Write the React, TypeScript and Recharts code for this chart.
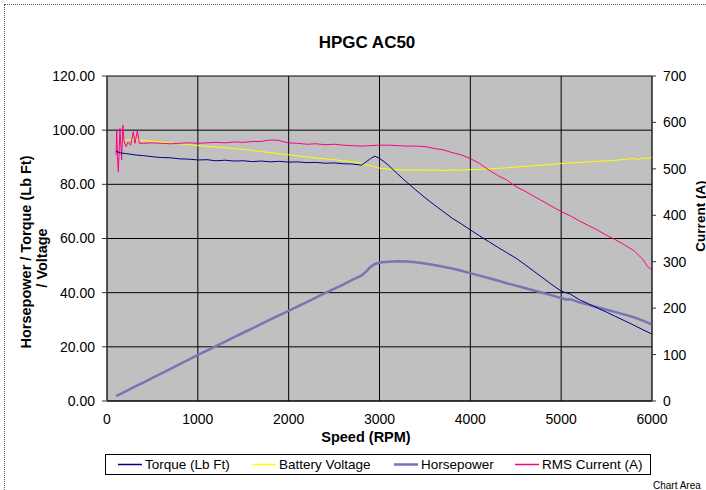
import React from 'react';
import { LineChart, Line, XAxis, YAxis, CartesianGrid } from 'recharts';

const xTicks = [0, 1000, 2000, 3000, 4000, 5000, 6000];
const leftTicks = [0, 20, 40, 60, 80, 100, 120];
const rightTicks = [0, 100, 200, 300, 400, 500, 600, 700];

const torqueRpm = [100, 150, 200, 300, 400, 500, 600, 700, 800, 900, 1000, 1100, 1200, 1300, 1400, 1500, 1600, 1700, 1800, 1900, 2000, 2100, 2200, 2300, 2400, 2500, 2600, 2700, 2800, 2850, 2900, 2950, 3000, 3050, 3100, 3200, 3300, 3400, 3500, 3600, 3700, 3800, 3900, 4000, 4100, 4200, 4300, 4400, 4500, 4600, 4700, 4800, 4900, 5000, 5050, 5100, 5200, 5300, 5400, 5500, 5600, 5700, 5800, 5900, 6000];
const torqueVals = [92.2, 91.6, 91.4, 90.9, 90.6, 90.2, 89.9, 89.8, 89.4, 89.3, 89.0, 89.1, 88.7, 88.9, 88.6, 88.7, 88.4, 88.6, 88.3, 88.5, 88.2, 88.3, 88.0, 88.1, 87.8, 87.9, 87.6, 87.5, 87.1, 88.2, 89.5, 90.4, 89.6, 88.4, 87.0, 83.8, 80.8, 77.9, 75.1, 72.5, 70.0, 67.5, 65.4, 63.2, 61.0, 58.9, 56.8, 54.8, 52.8, 50.4, 47.9, 45.4, 42.9, 40.6, 40.0, 39.5, 37.4, 35.9, 34.3, 32.8, 31.2, 29.6, 28.0, 26.3, 24.7];

const voltRpm = [140, 200, 300, 400, 500, 600, 700, 800, 900, 1000, 1100, 1200, 1300, 1400, 1500, 1600, 1700, 1800, 1900, 2000, 2100, 2200, 2300, 2400, 2500, 2600, 2700, 2800, 2900, 3000, 3100, 3200, 3300, 3400, 3500, 3600, 3700, 3800, 3900, 4000, 4100, 4200, 4300, 4400, 4500, 4600, 4700, 4800, 4900, 5000, 5100, 5200, 5300, 5400, 5500, 5600, 5700, 5800, 5850, 5900, 5950, 6000];
const voltVals = [96.6, 96.3, 96.5, 96.2, 95.9, 95.6, 95.3, 95.0, 94.7, 94.3, 94.0, 93.8, 93.5, 93.2, 92.9, 92.5, 92.1, 91.7, 91.3, 90.9, 90.5, 90.1, 89.7, 89.4, 89.1, 88.7, 88.3, 87.8, 86.8, 86.0, 85.6, 85.4, 85.3, 85.3, 85.2, 85.3, 85.1, 85.3, 85.2, 85.4, 85.5, 85.7, 85.9, 86.1, 86.4, 86.6, 86.9, 87.1, 87.4, 87.7, 87.9, 88.1, 88.3, 88.5, 88.7, 88.9, 89.2, 89.5, 89.2, 89.8, 89.5, 90.0];

const hpRpm = [100, 200, 300, 400, 500, 600, 700, 800, 900, 1000, 1100, 1200, 1300, 1400, 1500, 1600, 1700, 1800, 1900, 2000, 2100, 2200, 2300, 2400, 2500, 2600, 2700, 2800, 2850, 2900, 2950, 3000, 3100, 3200, 3300, 3400, 3500, 3600, 3700, 3800, 3900, 4000, 4100, 4200, 4300, 4400, 4500, 4600, 4700, 4800, 4900, 5000, 5050, 5100, 5200, 5300, 5400, 5500, 5600, 5700, 5800, 5900, 6000];
const hpVals = [1.8, 3.5, 5.2, 6.8, 8.5, 10.2, 11.9, 13.6, 15.3, 17.0, 18.6, 20.3, 21.9, 23.6, 25.2, 26.8, 28.5, 30.1, 31.7, 33.3, 34.9, 36.5, 38.2, 39.8, 41.4, 43.0, 44.7, 46.3, 47.7, 49.5, 50.6, 51.1, 51.4, 51.6, 51.5, 51.2, 50.8, 50.2, 49.6, 48.9, 48.1, 47.2, 46.3, 45.4, 44.5, 43.5, 42.6, 41.7, 40.8, 39.9, 39.0, 38.0, 37.5, 37.6, 36.4, 35.5, 34.6, 33.7, 32.8, 31.9, 30.9, 29.7, 28.3];

const ampRpm = [100, 107, 115, 125, 143, 161, 175, 187, 209, 235, 260, 290, 308, 334, 356, 400, 500, 600, 700, 800, 900, 1000, 1100, 1200, 1300, 1400, 1500, 1600, 1700, 1750, 1800, 1850, 1900, 1950, 2000, 2100, 2200, 2300, 2400, 2500, 2600, 2700, 2800, 2900, 3000, 3100, 3200, 3300, 3400, 3500, 3600, 3700, 3800, 3900, 4000, 4100, 4200, 4300, 4400, 4500, 4600, 4700, 4800, 4900, 5000, 5100, 5200, 5300, 5400, 5500, 5600, 5700, 5800, 5900, 5950, 6000];
const ampVals = [530, 584, 526, 494, 587, 519, 594, 560, 548, 558, 551, 580, 555, 582, 555, 555, 556, 555, 554, 555, 556, 555, 556, 557, 556, 558, 557, 559, 559, 561, 562, 562, 561, 558, 556, 555, 553, 554, 552, 553, 551, 550, 549, 550, 551, 551, 550, 549, 549, 548, 544, 541, 535, 530, 522, 512, 498, 486, 476, 462, 452, 441, 430, 419, 408, 399, 388, 378, 368, 357, 347, 336, 324, 305, 290, 282];

const pair = (xs: number[], ys: number[]) => xs.map((rpm, i) => ({ rpm, v: ys[i] }));

const FONT = 'Liberation Sans, Arial, sans-serif';
const HP_COLOR = '#7676B6';

const legendItems = [
  { name: 'Torque (Lb Ft)', color: '#000080', w: 1.5, x: 118 },
  { name: 'Battery Voltage', color: '#FFFF00', w: 1.5, x: 252 },
  { name: 'Horsepower', color: HP_COLOR, w: 2.5, x: 394 },
  { name: 'RMS Current (A)', color: '#FF0080', w: 1.5, x: 515 },
];

const App: React.FC = () => {
  const tick = { fill: '#000', fontSize: 14, fontFamily: FONT };
  return (
    <div style={{ position: 'absolute', left: 0, top: 0, width: 706, height: 490, overflow: 'hidden', background: '#fff' }}>
      <div style={{ position: 'absolute', left: 4, top: 4, width: 800, height: 600, border: '1px dotted #555' }} />
      <div style={{ position: 'absolute', left: 0, top: 0 }}>
        <LineChart width={706} height={490} margin={{ top: 76, right: 0, bottom: 0, left: 0 }}>
          <CartesianGrid yAxisId="left" stroke="#000" strokeWidth={1} fill="#C0C0C0" fillOpacity={1} />
          <XAxis
            type="number"
            dataKey="rpm"
            domain={[0, 6000]}
            ticks={xTicks}
            height={89}
            tickLine={false}
            tickSize={6}
            tickMargin={7}
            axisLine={{ stroke: '#000' }}
            tick={tick}
            allowDuplicatedCategory={false}
          />
          <YAxis
            yAxisId="left"
            domain={[0, 120]}
            ticks={leftTicks}
            width={107}
            tickSize={5}
            tickMargin={7}
            tickFormatter={(v: number) => v.toFixed(2)}
            axisLine={{ stroke: '#333' }}
            tickLine={{ stroke: '#333' }}
            tick={tick}
          />
          <YAxis
            yAxisId="right"
            orientation="right"
            domain={[0, 700]}
            ticks={rightTicks}
            width={54}
            tickSize={4}
            tickMargin={7}
            axisLine={{ stroke: '#333' }}
            tickLine={{ stroke: '#333' }}
            tick={tick}
          />
          <Line yAxisId="left" data={pair(hpRpm, hpVals)} dataKey="v" name="Horsepower" stroke={HP_COLOR} strokeWidth={2.5} dot={false} isAnimationActive={false} type="linear" />
          <Line yAxisId="left" data={pair(voltRpm, voltVals)} dataKey="v" name="Battery Voltage" stroke="#FFFF00" strokeWidth={1} dot={false} isAnimationActive={false} type="linear" />
          <Line yAxisId="right" data={pair(ampRpm, ampVals)} dataKey="v" name="RMS Current (A)" stroke="#FF0080" strokeWidth={1} dot={false} isAnimationActive={false} type="linear" />
          <Line yAxisId="left" data={pair(torqueRpm, torqueVals)} dataKey="v" name="Torque (Lb Ft)" stroke="#000080" strokeWidth={1} dot={false} isAnimationActive={false} type="linear" />
        </LineChart>
      </div>
      <svg width={706} height={490} style={{ position: 'absolute', left: 0, top: 0, pointerEvents: 'none' }} fontFamily={FONT}>
        <text x={367} y={42} textAnchor="middle" dominantBaseline="central" fontSize={17} fontWeight="bold">HPGC AC50</text>
        <text x={366} y={437} textAnchor="middle" dominantBaseline="central" fontSize={14.5} fontWeight="bold">Speed (RPM)</text>
        <text transform="translate(26,252) rotate(-90)" textAnchor="middle" dominantBaseline="central" fontSize={14.5} fontWeight="bold">Horsepower / Torque (Lb Ft)</text>
        <text transform="translate(42,258) rotate(-90)" textAnchor="middle" dominantBaseline="central" fontSize={14.5} fontWeight="bold">/ Voltage</text>
        <text transform="translate(700,216) rotate(-90)" textAnchor="middle" dominantBaseline="central" fontSize={13.5} fontWeight="bold">Current (A)</text>
        <rect x={105.5} y={454.5} width={545} height={20} fill="#fff" stroke="#000" strokeWidth={1} />
        {legendItems.map((it) => (
          <g key={it.name}>
            <line x1={it.x} x2={it.x + 24} y1={464.5} y2={464.5} stroke={it.color} strokeWidth={it.w} />
            <text x={it.x + 27} y={464.5} dominantBaseline="central" fontSize={13.5}>{it.name}</text>
          </g>
        ))}
        <text x={653} y={485} dominantBaseline="central" fontSize={10}>Chart Area</text>
      </svg>
    </div>
  );
};

export default App;
